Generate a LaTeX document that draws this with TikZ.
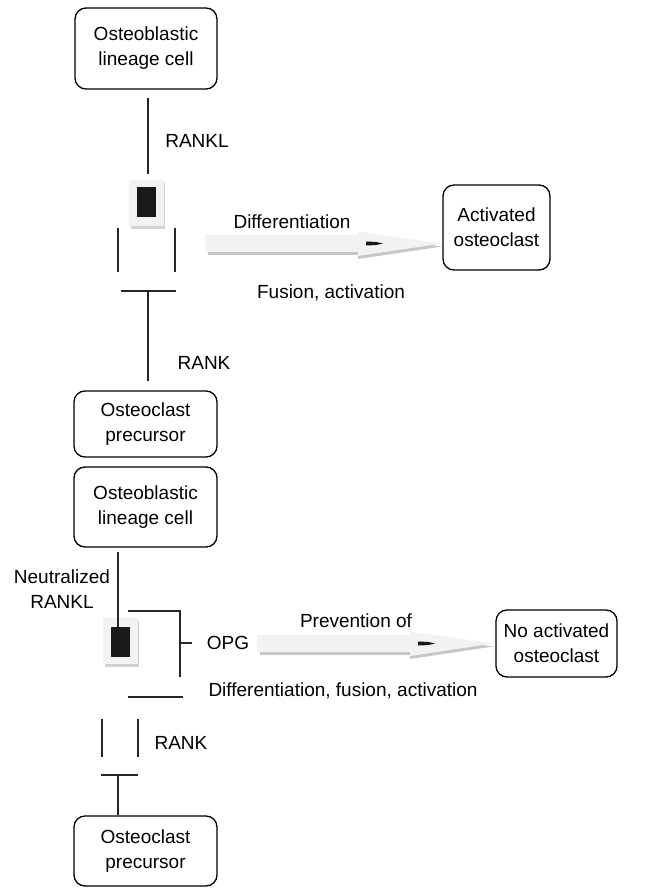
\documentclass[tikz,border=0pt]{standalone}
\usepackage{fontspec}
\setmainfont{Liberation Sans}
\usetikzlibrary{arrows.meta}
\def\lw{1.4pt}
\tikzset{
  cell/.style={draw, line width=1.3pt, rounded corners=11pt, align=center, inner sep=0pt},
  lbl/.style={align=center, inner sep=0pt},
  bar/.style={line width=\lw, black!85},
}

\begin{document}
\begin{tikzpicture}[x=1pt, y=-1pt, font=\fontsize{19}{25}\selectfont]
\useasboundingbox (0,0) rectangle (650,890);

 % Cells
 \node[cell, minimum width=142, minimum height=81] (oblast1) at (146,48.5) {Osteoblastic\\lineage cell};
 \node[cell, minimum width=143, minimum height=66] (oclast1) at (145.5,424) {Osteoclast\\precursor};
 \node[cell, minimum width=143, minimum height=80] (oblast2) at (145.5,507) {Osteoblastic\\lineage cell};
 \node[cell, minimum width=143, minimum height=70] (oclast2) at (145.5,851) {Osteoclast\\precursor};
 \node[cell, minimum width=107, minimum height=85] (active) at (496.5,227.5) {Activated\\osteoclast};
 \node[cell, minimum width=121, minimum height=67] (noactive) at (556.5,643.5) {No activated\\osteoclast};

 % Ligand squares
 \foreach \x/\y in {146.5/203, 120/641}{
    \fill[gray!35] (\x-15.5,\y-20) rectangle (\x+18.5,\y+26);
    \fill[gray!10] (\x-17.5,\y-23) rectangle (\x+17.5,\y+23);
 }

 % Wide arrows
 \foreach \s/\h/\t/\y in {205/358/442/243.5, 257/410/493/643.5}{
    \fill[gray!45] (\s+3,\y-5.5) -- (\h,\y-5.5) -- (\h,\y-9.5) -- (\t,\y+3) -- (\h,\y+15.5) -- (\h,\y+11.5) -- (\s+3,\y+11.5) -- cycle;
    \fill[gray!10] (\s,\y-8.5) -- (\h,\y-8.5) -- (\h,\y-12) -- (\t,\y) -- (\h,\y+12.5) -- (\h,\y+8.5) -- (\s,\y+8.5) -- cycle;
    \fill[black!90] (\h+8,\y-2) -- (\h+18,\y-1.6) -- (\h+25,\y) -- (\h+18,\y+1.6) -- (\h+8,\y+2) -- cycle;
 }

 % Upper pathway
 \coordinate (rankl1) at (148,174);
 \coordinate (tbar1) at (148,291);
 \draw[bar, shorten <=8] (oblast1.south -| rankl1) -- (rankl1);
 \foreach \x in {118, 175}{
    \draw[bar] (\x,228) -- (\x,272);
 }
 \draw[bar] (121,291) -- (176,291);
 \draw[bar, shorten >=9] (tbar1) -- (tbar1 |- oclast1.north);

 % Lower pathway
 \coordinate (rankl2) at (118,627);
 \coordinate (tbar2) at (118,775);
 \draw[bar, shorten <=4] (oblast2.south -| rankl2) -- (rankl2);
 \draw[bar] (128,611) -- (180,611) -- (180,677);
 \draw[bar] (180,643) -- (192,643);
 \draw[bar] (128,697) -- (183,697);
 \foreach \x in {102, 138}{
    \draw[bar] (\x,719) -- (\x,757);
 }
 \draw[bar] (101,775) -- (138,775);
 \draw[bar] (tbar2) -- (tbar2 |- oclast2.north);

 % Receptor blocks
 \foreach \x/\y in {146.5/202, 120/641.5}{
    \fill[black!90] (\x-9.5,\y-15) rectangle (\x+9.5,\y+15);
 }

 % Labels
 \node[lbl] (lrankl) at (197,141) {RANKL};
 \node[lbl] (lrank1) at (204,363) {RANK};
 \node[lbl] (ldiff) at (292,222) {Differentiation};
 \node[lbl] (lfusion) at (331,293) {Fusion, activation};
 \node[lbl] (lneut) at (62,589) {Neutralized\\RANKL};
 \node[lbl] (lopg) at (228,643) {OPG};
 \node[lbl] (lprev) at (356,621) {Prevention of};
 \node[lbl] (lall) at (343,691) {Differentiation, fusion, activation};
 \node[lbl] (lrank2) at (181,743) {RANK};

\end{tikzpicture}
\end{document}
